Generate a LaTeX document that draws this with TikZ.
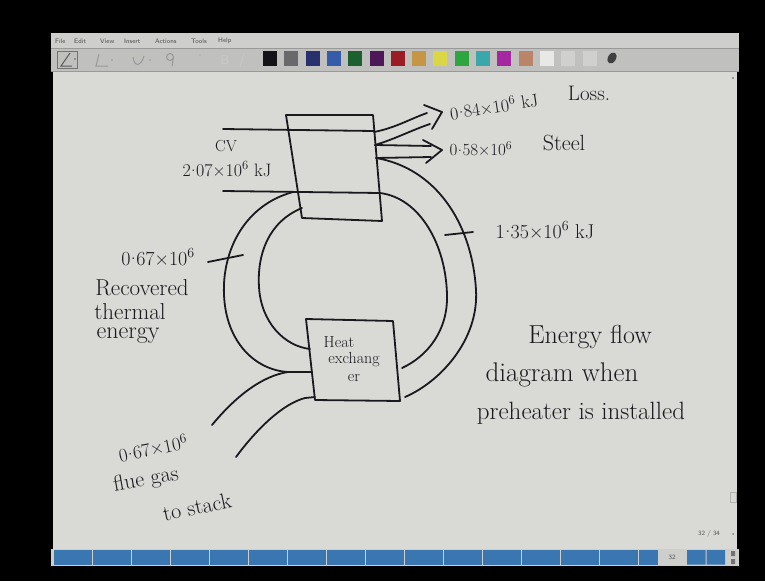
\documentclass[tikz,border=0pt]{standalone}
\usepackage{fontspec}
\usepackage{tikz}
\usetikzlibrary{positioning}
\definecolor{inkc}{RGB}{26,26,30}
\definecolor{paper}{RGB}{217,217,213}
\definecolor{menubg}{RGB}{206,206,204}
\definecolor{toolbg}{RGB}{192,192,190}
\definecolor{barblue}{RGB}{58,118,176}
\newcommand{\esix}{\textsuperscript{6}}
\newcommand{\hdot}{\kern0.4pt\raisebox{0.28em}{.}\kern0.4pt}
\tikzset{
  ink/.style={line width=1.8pt,draw=inkc,line cap=round,line join=round},
  hand/.style={text=inkc,inner sep=0pt,font=\fontsize{#1}{#1}\selectfont},
  menu/.style={text=black!70,inner sep=0pt,font=\sffamily\fontsize{6.5}{7}\selectfont},
}

\begin{document}
\begin{tikzpicture}[x=1pt,y=-1pt]
  % screen and window frame
  \fill[black] (0,0) rectangle (765,581);
  \useasboundingbox (0,0) rectangle (765,581);
  \fill[menubg] (51,33) rectangle (739,48);
  \fill[toolbg] (51,48) rectangle (739,72);
  \draw[black!40,line width=0.6pt] (51,48) -- (739,48) (51,71.5) -- (739,71.5);
  \fill[paper] (53,72) rectangle (737,549);
  \fill[menubg] (51,549) rectangle (739,566);
  \foreach \w/\x in {File/55,Edit/74,View/100,Insert/124,Actions/155,Tools/191,Help/218}
    \node[menu,anchor=west] (m\w) at (\x,41) {\w};
  % toolbar icons
  \draw[black!55,line width=0.6pt] (57,51) rectangle (77,68);
  \draw[black!65,line width=1pt] (70,53) -- (61,66) -- (72,66);
  \fill[black!60] (75,59) circle (0.9);
  \draw[black!40,line width=1pt] (99,54) -- (96,66) -- (108,66);
  \fill[black!40] (112,60) circle (0.9);
  \draw[black!40,line width=1pt] (133,57) .. controls (134,67) and (141,67) .. (144,56);
  \fill[black!40] (150,60) circle (0.9);
  \draw[black!40,line width=1pt] (170,57) circle (3.5) (173.5,57) -- (172,66);
  \fill[black!30] (200,55) circle (0.9);
  \node[text=black!22,inner sep=0pt,font=\sffamily\bfseries\fontsize{13}{13}\selectfont] (bold) at (225,60) {B};
  \draw[black!22,line width=1pt] (244,53) -- (240,67);
  \foreach \r/\g/\b [count=\i from 0] in {20/20/24,105/105/108,40/48/110,52/92/168,28/96/48,78/24/88,156/28/38,196/150/70,218/214/70,46/166/64,58/168/170,166/40/160,186/132/104,232/232/230,208/208/206,208/208/206}{
    \definecolor{sw}{RGB}{\r,\g,\b}
    \fill[sw] ({263+\i*21.3},51) rectangle ({277+\i*21.3},66);
  }
  \fill[black!75,rotate around={-30:(612,58)}] (612,58) ellipse (4 and 6);
  % bottom bar
  \foreach \i in {0,...,30}
    \fill[barblue] ({53.5+\i*19.5},550) rectangle ({72.5+\i*19.5},564.5);
  \fill[barblue] (687,550) rectangle (705.5,564.5) (706.5,550) rectangle (725,564.5);
  \node[menu] (pg) at (672,557) {32};
  \node[menu] (pages) at (709,534) {32 / 34};
  \fill[black!55] (731,551) rectangle (735,556) (731,559) rectangle (735,564);
  \fill[black!50] (733,78) circle (1.2) (733,534) circle (1);
  \draw[black!30] (730,492) rectangle (736,502);

  % combustion chamber
  \coordinate (cvTL) at (286,115);
  \coordinate (cvTR) at (373,115);
  \coordinate (cvBR) at (382,221);
  \coordinate (cvBL) at (302,218);
  \draw[ink] (cvTL) -- (cvTR) -- (cvBR) -- (cvBL) -- cycle;
  % heat exchanger
  \coordinate (hxTL) at (306,319);
  \coordinate (hxTR) at (393,321);
  \coordinate (hxBR) at (400,401);
  \coordinate (hxBL) at (315,400);
  \draw[ink] (hxTL) -- (hxTR) -- (hxBR) -- (hxBL) -- cycle;

  % connection points
  \coordinate (inA) at (223,129);  \coordinate (inAe) at (374,131);
  \coordinate (inB) at (223,191);  \coordinate (inBe) at (380,193);
  \coordinate (lossU) at (374,132); \coordinate (lossL) at (375,145);
  \coordinate (lossT) at (442,112);
  \coordinate (stL) at (376,158);  \coordinate (stT) at (442,150);
  \coordinate (lout) at (293,192); \coordinate (lin) at (302,208);
  \coordinate (fj) at (288,372);   \coordinate (hxL1) at (312,372);
  \coordinate (hxL2) at (310,349); \coordinate (hxL3) at (315,397);
  \coordinate (hxR1) at (402,368); \coordinate (hxR2) at (405,397);
  \coordinate (flueA) at (212,425); \coordinate (flueB) at (236,457);

  % fuel in
  \draw[ink] (inA) -- (inAe);
  \draw[ink] (inB) -- (inBe);
  % loss arrow
  \draw[ink] (lossU) .. controls (395,128) and (410,119) .. (427,113);
  \draw[ink] (lossL) .. controls (395,139) and (412,130) .. (430,124);
  \draw[ink] (424,105) -- (lossT) -- (432,129);
  % steel arrow
  \draw[ink] (lossL) -- (431,146);
  \draw[ink] (stL) -- (431,157);
  \draw[ink] (423,140) -- (stT) -- (426,163);
  % hot gas duct to heat exchanger
  \draw[ink] (stL) .. controls (435,168) and (472,222) .. (476,290)
                   .. controls (479,340) and (440,382) .. (hxR2);
  \draw[ink] (inBe) .. controls (420,198) and (446,245) .. (447,295)
                    .. controls (448,330) and (428,356) .. (hxR1);
  % recovered air duct back to chamber
  \draw[ink] (lout) .. controls (245,205) and (222,250) .. (224,295)
                    .. controls (226,342) and (255,370) .. (fj) -- (hxL1);
  \draw[ink] (lin) .. controls (268,222) and (257,255) .. (259,287)
                   .. controls (261,322) and (284,346) .. (hxL2);
  % flue gas
  \draw[ink] (fj) .. controls (262,376) and (236,396) .. (flueA);
  \draw[ink] (hxL3) -- (305,398) .. controls (282,404) and (256,430) .. (flueB);
  % ticks
  \draw[ink] (208,262) -- (243,255);
  \draw[ink] (445,235) -- (473,232);

  % labels
  \node[hand=16] (cv) at (226,146) {CV};
  \node[hand=18] (cvval) at (227,169) {2\hdot07×10\esix{} kJ};
  \node[hand=18,rotate=9] (lossval) at (494,106) {0\hdot84×10\esix{} kJ};
  \node[hand=21] (loss) at (589,93) {Loss.};
  \node[hand=17] (steelval) at (481,149) {0\hdot58×10\esix};
  \node[hand=22] (steel) at (564,143) {Steel};
  \node[hand=20] (flowval) at (545,230) {1\hdot35×10\esix{} kJ};
  \node[hand=20] (recval) at (158,257) {0\hdot67×10\esix};
  \node[hand=23] (rec1) at (142,288) {Recovered};
  \node[hand=23] (rec2) at (130,312) {thermal};
  \node[hand=24] (rec3) at (128,336) {energy};
  \node[hand=16] (hx1) at (339,342) {Heat};
  \node[hand=16] (hx2) at (354,360) {exchang};
  \node[hand=16] (hx3) at (354,378) {er};
  \node[hand=19,rotate=12] (flueval) at (153,448) {0\hdot67×10\esix};
  \node[hand=22,rotate=10] (flue1) at (146,480) {flue gas};
  \node[hand=22,rotate=12] (flue2) at (197,507) {to stack};
  \node[hand=26] (cap1) at (590,337) {Energy flow};
  \node[hand=27] (cap2) at (562,375) {diagram when};
  \node[hand=25] (cap3) at (581,413) {preheater is installed};
\end{tikzpicture}
\end{document}
